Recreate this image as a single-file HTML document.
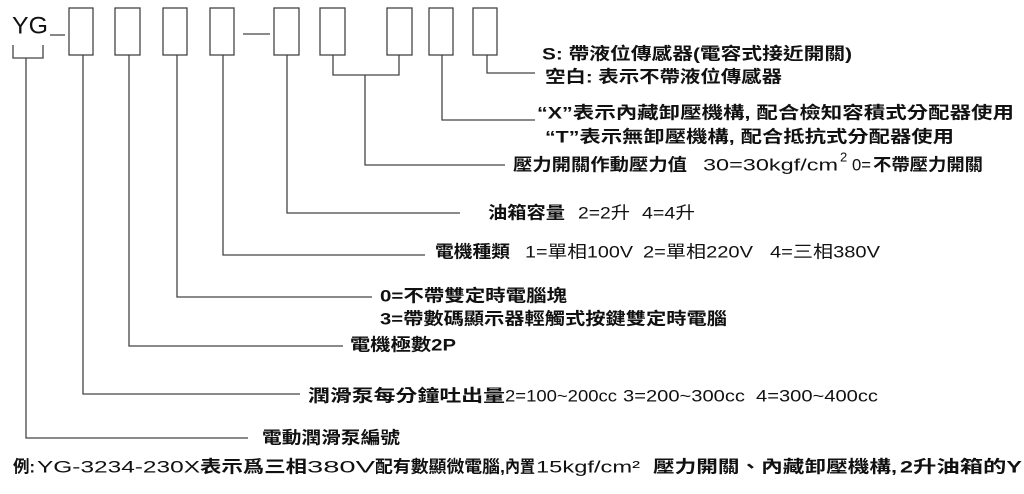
<!DOCTYPE html>
<html><head><meta charset="utf-8"><style>
html,body{margin:0;padding:0;background:#fff;}
svg{display:block;}
text{font-family:"Liberation Sans","Noto Sans CJK TC",sans-serif;font-weight:bold;fill:#111;font-size:17px;dominant-baseline:central;}
text.n{font-weight:normal;}
</style></head><body>
<svg width="1024" height="494" viewBox="0 0 1024 494" xmlns="http://www.w3.org/2000/svg">
<g fill="none" stroke="#444" stroke-width="1.3">
<rect x="69" y="8" width="24" height="47"/>
<rect x="115" y="8" width="25" height="47"/>
<rect x="163" y="8" width="24" height="47"/>
<rect x="210" y="8" width="24" height="47"/>
<rect x="274" y="8" width="25" height="47"/>
<rect x="320" y="8" width="25" height="47"/>
<rect x="387" y="8" width="25" height="47"/>
<rect x="429" y="8" width="24" height="47"/>
<rect x="473" y="8" width="24" height="47"/>
<line x1="50" y1="35" x2="65" y2="35"/>
<line x1="243" y1="34" x2="270" y2="34"/>
<polyline points="13,45 13,58 43,58 43,45"/>
<polyline points="26,58 26,438 248,438"/>
<polyline points="83,55 83,394 300,394"/>
<polyline points="129,55 129,346 343,346"/>
<polyline points="177,55 177,297 372,297"/>
<polyline points="223,55 223,255 425,255"/>
<polyline points="287,55 287,213 460,213"/>
<polyline points="333,55 333,75 399,75 399,55"/>
<polyline points="365,75 365,165 505,165"/>
<polyline points="442,55 442,120 535,120"/>
<polyline points="487,55 487,73 535,73"/>
</g>
<text class="n" x="12" y="26" style="font-size:24px" textLength="36" lengthAdjust="spacingAndGlyphs">YG</text>

<text x="542" y="54" textLength="310" lengthAdjust="spacingAndGlyphs">S: 帶液位傳感器(電容式接近開關)</text>
<text x="545" y="77" textLength="237" lengthAdjust="spacingAndGlyphs">空白: 表示不帶液位傳感器</text>
<text x="537" y="113" textLength="477" lengthAdjust="spacingAndGlyphs">“X”表示內藏卸壓機構, 配合檢知容積式分配器使用</text>
<text x="545" y="137" textLength="409" lengthAdjust="spacingAndGlyphs">“T”表示無卸壓機構, 配合抵抗式分配器使用</text>

<text x="513" y="165" textLength="174" lengthAdjust="spacingAndGlyphs">壓力開關作動壓力值</text>
<text class="n" x="703" y="165" textLength="135" lengthAdjust="spacingAndGlyphs">30=30kgf/cm</text>
<text class="n" x="840" y="157" style="font-size:13px">2</text>
<text class="n" x="852" y="165" textLength="19" lengthAdjust="spacingAndGlyphs">0=</text>
<text x="873" y="165" textLength="110" lengthAdjust="spacingAndGlyphs">不帶壓力開關</text>

<text x="488" y="213" textLength="77" lengthAdjust="spacingAndGlyphs">油箱容量</text>
<text class="n" x="578" y="213" textLength="52" lengthAdjust="spacingAndGlyphs">2=2升</text>
<text class="n" x="642" y="213" textLength="53" lengthAdjust="spacingAndGlyphs">4=4升</text>

<text x="435" y="252" textLength="75" lengthAdjust="spacingAndGlyphs">電機種類</text>
<text class="n" x="525" y="252" textLength="108" lengthAdjust="spacingAndGlyphs">1=單相100V</text>
<text class="n" x="643" y="252" textLength="110" lengthAdjust="spacingAndGlyphs">2=單相220V</text>
<text class="n" x="770" y="252" textLength="110" lengthAdjust="spacingAndGlyphs">4=三相380V</text>

<text x="380" y="296" textLength="187" lengthAdjust="spacingAndGlyphs">0=不帶雙定時電腦塊</text>
<text x="380" y="319" textLength="347" lengthAdjust="spacingAndGlyphs">3=帶數碼顯示器輕觸式按鍵雙定時電腦</text>
<text x="350" y="345" textLength="106" lengthAdjust="spacingAndGlyphs">電機極數2P</text>

<text x="308" y="396" textLength="197" lengthAdjust="spacingAndGlyphs">潤滑泵每分鐘吐出量</text>
<text class="n" x="505" y="396" textLength="112" lengthAdjust="spacingAndGlyphs">2=100~200cc</text>
<text class="n" x="623" y="396" textLength="122" lengthAdjust="spacingAndGlyphs">3=200~300cc</text>
<text class="n" x="756" y="396" textLength="122" lengthAdjust="spacingAndGlyphs">4=300~400cc</text>

<text x="262" y="438" textLength="138" lengthAdjust="spacingAndGlyphs">電動潤滑泵編號</text>

<text x="13" y="467" textLength="22" lengthAdjust="spacingAndGlyphs">例:</text>
<text class="n" x="37" y="467" textLength="163" lengthAdjust="spacingAndGlyphs">YG-3234-230X</text>
<text x="200" y="467" textLength="107" lengthAdjust="spacingAndGlyphs">表示爲三相</text>
<text class="n" x="307" y="467" textLength="68" lengthAdjust="spacingAndGlyphs">380V</text>
<text x="375" y="467" textLength="130" lengthAdjust="spacingAndGlyphs">配有數顯微電腦,</text>
<text x="505" y="467" textLength="30" lengthAdjust="spacingAndGlyphs">內置</text>
<text class="n" x="536" y="467" textLength="104" lengthAdjust="spacingAndGlyphs">15kgf/cm²</text>
<text x="653" y="467" textLength="244" lengthAdjust="spacingAndGlyphs">壓力開關、內藏卸壓機構,</text>
<text x="900" y="467" textLength="122" lengthAdjust="spacingAndGlyphs">2升油箱的Y</text>
</svg>
</body></html>
